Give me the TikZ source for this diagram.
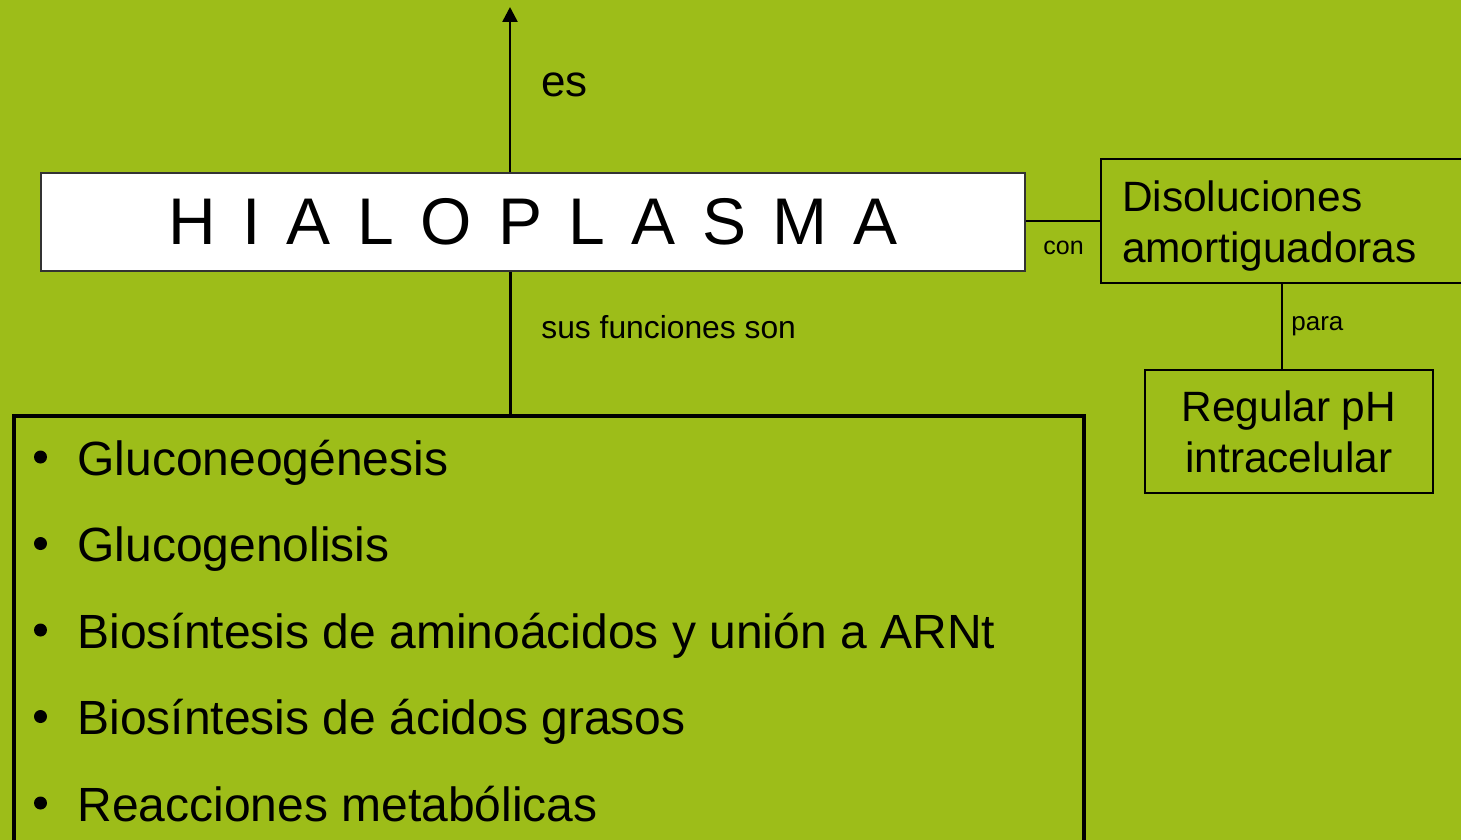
\documentclass[tikz,border=0pt]{standalone}
\usepackage{fontspec}
\setmainfont{Liberation Sans}
\usetikzlibrary{arrows.meta,positioning,calc}
\definecolor{slideGreen}{RGB}{157,189,25}
\tikzset{
    line/.style       = {draw=black, line width=0.8pt},
    mainBox/.style    = {draw=black!80, line width=0.8pt, fill=white,
            minimum width=492pt, minimum height=49pt, inner sep=0pt},
    listBox/.style    = {draw=black, line width=2pt,
            minimum width=535pt, minimum height=260pt, inner sep=0pt},
    conceptBox/.style = {draw=black, line width=1pt, inner sep=0pt,
            font=\fontsize{21.2}{25.5}\selectfont},
    linkLabel/.style  = {inner sep=0pt, anchor=base west},
    bullet/.style     = {circle, fill=black, inner sep=0pt, minimum size=6.5pt},
    itemText/.style   = {anchor=base west, inner sep=0pt,
            font=\fontsize{24}{29}\selectfont},
}
\newcommand{\ItemGap}{86.5}

\begin{document}
\begin{tikzpicture}[x=0.5pt,y=-0.5pt]
    \useasboundingbox (0,0) rectangle (1461,840);
    \fill[slideGreen] (0,0) rectangle (1461,840);
    \clip (0,0) rectangle (1461,840);

    % main concept
    \node[mainBox, font=\fontsize{33}{40}\selectfont] (hialo) at (533,222)
        {\spaceskip=0.4em\relax H I A L O P L A S M A};

    % functions
    \node[listBox, anchor=north west] (funciones) at (12,414) {};
    \foreach \txt [count=\i from 0] in {Gluconeogénesis, Glucogenolisis,
        Biosíntesis de aminoácidos y unión a ARNt,
        Biosíntesis de ácidos grasos, Reacciones metabólicas}{
        \node[bullet] (b\i) at (40.5, 457+\i*\ItemGap) {};
        \node[itemText] (item\i) at (77, 475+\i*\ItemGap) {\txt};
    }

    % buffers
    \node[conceptBox, anchor=north west, minimum height=62pt, text width=190pt,
        text height=20.5pt, align=left, inner xsep=10.5pt] (diso) at (1100,158)
        {Disoluciones\\amortiguadoras};
    \node[conceptBox, minimum width=144pt, minimum height=61.5pt, align=center]
        (regul) at (1289,431.5) {Regular pH\\intracelular};

    % connectors
    \coordinate (tip) at (510,7);
    \draw[line, line width=1.3pt, -{Triangle[length=7.5pt,width=7.5pt]}]
        (hialo.north -| tip) -- (tip);
    \draw[line, line width=1.5pt] (hialo.south -| tip) -- (funciones.north -| tip);
    \draw[line] (hialo.east |- diso.west) -- (diso.west);
    \draw[line] ([xshift=-3.5pt]regul.north) -- ([xshift=-3.5pt]regul.north |- diso.south);

    % link labels
    \node[linkLabel, font=\fontsize{22}{26}\selectfont] (es) at (541,97) {es};
    \node[linkLabel, font=\fontsize{15.9}{19}\selectfont] (sus) at (541,338) {sus funciones son};
    \node[linkLabel, font=\fontsize{12.5}{15}\selectfont] (con) at (1043,254) {con};
    \node[linkLabel, font=\fontsize{13}{16}\selectfont] (para) at (1291,330) {para};
\end{tikzpicture}
\end{document}
